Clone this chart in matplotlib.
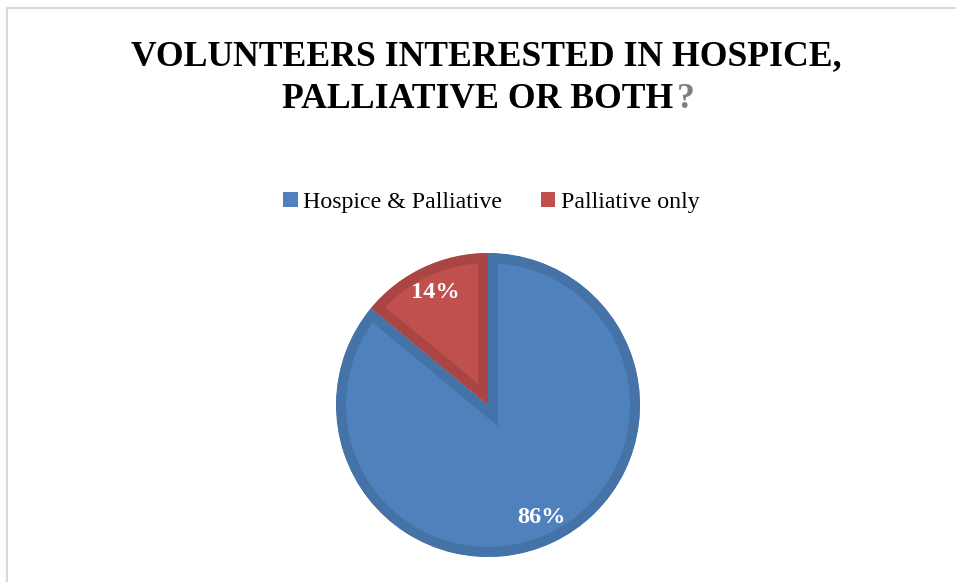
import matplotlib
matplotlib.use("Agg")
import matplotlib.pyplot as plt
from matplotlib.patches import Patch
from matplotlib.lines import Line2D
from matplotlib.text import Annotation

labels = ["Hospice & Palliative", "Palliative only"]
shares = [86, 14]
fills = ["#4f81bd", "#c0504d"]
edges = ["#4572a7", "#a94644"]

title_line1 = "VOLUNTEERS INTERESTED IN HOSPICE,"
title_line2 = "PALLIATIVE OR BOTH"

serif = ["Liberation Serif", "DejaVu Serif"]

fig = plt.figure(figsize=(9.56, 5.82), dpi=100)
fig.patch.set_facecolor("white")

# thin gray frame along the top and left edges
fig.add_artist(Line2D([0.0068, 0.0068], [0.9854, 0.0], transform=fig.transFigure,
                      color="#d9d9d9", lw=1.5))
fig.add_artist(Line2D([0.0068, 1.0], [0.9854, 0.9854], transform=fig.transFigure,
                      color="#d9d9d9", lw=1.5))

# title, the question mark is gray
fig.text(0.5089, 0.8883, title_line1, ha="center", va="baseline",
         fontsize=25.7, fontweight="bold", family=serif, color="black")
t2 = fig.text(0.5, 0.8144, title_line2, ha="center", va="baseline",
              fontsize=25.7, fontweight="bold", family=serif, color="black")
fig.add_artist(Annotation("?", xy=(1, 0), xycoords=t2, xytext=(3, 0),
                          textcoords="offset pixels", ha="left", va="bottom",
                          fontsize=25.7, fontweight="bold", family=serif,
                          color="#7f7f7f"))

# pie: square axes box, radius 1 fills it
ax = fig.add_axes([0.3515, 0.04296, 0.318, 0.5223])
wedges, texts, autotexts = ax.pie(
    shares, colors=fills, startangle=90, counterclock=False,
    autopct="%.0f%%", pctdistance=0.82, radius=1,
    textprops=dict(color="white", fontsize=17.5, fontweight="bold", family=serif))
# border drawn inside each slice only
for w, ec in zip(wedges, edges):
    w.set_edgecolor(ec)
    w.set_linewidth(14.4)
    w.set_clip_on(True)
    w.set_clip_path(w)
ax.set_xlim(-1, 1)
ax.set_ylim(-1, 1)
ax.set_aspect("auto")
ax.axis("off")

handles = [Patch(facecolor=c, edgecolor="none") for c in fills]
fig.legend(handles, labels, loc="center", bbox_to_anchor=(0.5141, 0.6529), ncol=2,
           frameon=False, handlelength=0.6, handleheight=0.6, handletextpad=0.25,
           columnspacing=1.6, prop=dict(family=serif, size=17.2))

fig.savefig("out.png", dpi=100, facecolor="white")
